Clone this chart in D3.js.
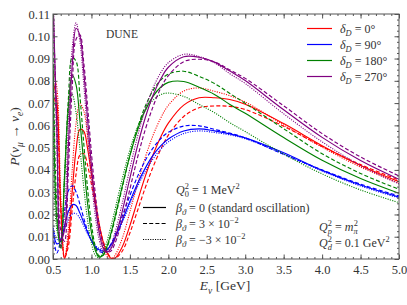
<!DOCTYPE html>
<html lang="en">
<head>
<meta charset="UTF-8">
<title>DUNE appearance probability</title>
<script src="https://d3js.org/d3.v7.min.js"></script>
<style>
  html, body { margin: 0; padding: 0; background: #fff; }
  text { font-family: "Liberation Serif", "DejaVu Serif", serif; fill: #333; }
</style>
</head>
<body>
<div id="chart"></div>
<script>
// neutrino energy grid (GeV)
const energy = [0.5, 0.55, 0.6, 0.65, 0.7, 0.75, 0.8, 0.85, 0.9, 0.95, 1.0, 1.05, 1.1, 1.15, 1.2, 1.25, 1.3,
  1.4, 1.5, 1.6, 1.7, 1.8, 1.9, 2.0, 2.2, 2.4, 2.6, 2.8, 3.0, 3.5, 4.0, 4.5, 5.0];

// P(numu -> nue). std = beta 0, pos = +3e-2 (dashed), neg = -3e-2 (dotted)
const d0Std = [.080, .071, .024, .0003, .009, .0303, .0491, .0582, .0574, .0495, .0381, .0263, .0159, .0080, .0029, .0004, .0002,
  .0054, .0150, .0262, .0371, .0467, .0547, .0610, .0691, .0724, .0724, .0716, .0695, .0608, .0509, .0420, .0347];
const d0Pos = [.075, .066, .022, .0006, .0058, .0225, .0381, .0467, .0474, .0421, .0335, .0239, .0152, .0083, .0035, .0008, .0001,
  .0035, .0117, .0218, .0320, .0412, .0491, .0556, .0640, .0679, .0687, .0685, .0671, .0596, .0505, .0424, .0355];
const d0Neg = [.085, .077, .030, .0002, .0137, .0400, .0609, .0698, .0666, .0552, .0406, .0263, .0145, .0062, .0014, .0000, .0013,
  .0092, .0212, .0339, .0456, .0554, .0632, .0690, .0754, .0768, .0753, .0733, .0705, .0602, .0502, .0413, .0340];

const d90Std = [.0135, .0068, .0081, .0150, .0213, .0244, .0240, .0206, .0164, .0119, .0083, .0056, .0041, .0035, .0041, .0061, .0092,
  .0172, .0258, .0339, .0408, .0465, .0508, .0539, .0575, .0584, .0575, .0562, .0544, .0477, .0398, .0332, .0278];
const d90Pos = [.011, .0027, .0086, .0214, .0306, .0329, .0301, .0246, .0183, .0126, .0082, .0052, .0035, .0030, .0040, .0065, .0101,
  .0192, .0285, .0371, .0442, .0498, .0540, .0569, .0597, .0598, .0582, .0565, .0544, .0470, .0400, .0336, .0283];
const d90Neg = [.015, .0088, .0090, .0135, .0178, .0202, .0204, .0182, .0149, .0113, .0084, .0060, .0047, .0040, .0043, .0060, .0088,
  .0163, .0246, .0325, .0393, .0449, .0493, .0526, .0563, .0575, .0568, .0557, .0540, .0471, .0395, .0328, .0274];

const d180Std = [.0875, .0177, .0059, .0367, .0687, .0826, .0782, .0622, .0428, .0248, .0119, .0039, .0009, .0018, .0055, .0111, .0180,
  .0326, .0464, .0579, .0669, .0730, .0771, .0793, .0797, .0771, .0739, .0694, .0654, .0545, .0443, .0361, .0295];
const d180Pos = [.093, .023, .0044, .0353, .0718, .0904, .0888, .0731, .0519, .0315, .0157, .0057, .0014, .0016, .0049, .0103, .0171,
  .0320, .0465, .0588, .0686, .0756, .0803, .0830, .0843, .0820, .0788, .0743, .0699, .0585, .0473, .0384, .0313];
const d180Neg = [.082, .013, .0078, .0386, .0659, .0739, .0658, .0497, .0322, .0174, .0071, .0017, .0006, .0029, .0077, .0141, .0212,
  .0359, .0490, .0593, .0667, .0713, .0738, .0745, .0730, .0694, .0657, .0612, .0572, .0471, .0382, .0310, .0253];

const d270Std = [.118, .0588, .0085, .0130, .0507, .0869, .1036, .1003, .0842, .0627, .0417, .0242, .0120, .0051, .0030, .0045, .0085,
  .0213, .0363, .0509, .0634, .0734, .0808, .0861, .0908, .0906, .0884, .0844, .0801, .0670, .0546, .0442, .0358];
const d270Pos = [.112, .062, .013, .0079, .0401, .0772, .0987, .1007, .0883, .0685, .0476, .0294, .0155, .0070, .0033, .0035, .0065,
  .0174, .0314, .0456, .0581, .0683, .0766, .0823, .0886, .0897, .0885, .0849, .0811, .0688, .0563, .0458, .0373];
const d270Neg = [.122, .0494, .0052, .0200, .0616, .0948, .106, .0977, .0784, .0560, .0353, .0193, .0088, .0038, .0033, .0060, .0111,
  .0250, .0406, .0551, .0673, .0767, .0836, .0881, .0919, .0909, .0881, .0832, .0788, .0652, .0526, .0420, .0337];

const deltaLabels = ["0°", "90°", "180°", "270°"];
const betaLabels = ["0 (standard oscillation)", "3 × 10", "−3 × 10"];
const xTicks = [0.5, 1.0, 1.5, 2.0, 2.5, 3.0, 3.5, 4.0, 4.5, 5.0];
const yTicks = [0, 0.01, 0.02, 0.03, 0.04, 0.05, 0.06, 0.07, 0.08, 0.09, 0.10, 0.11];

const colors = ["#ff0000", "#0000ff", "#008000", "#800080"];
const dashes = [null, "4,2.2", "1.1,1.3"];

const series = [
  [d0Std, d0Pos, d0Neg], [d90Std, d90Pos, d90Neg],
  [d180Std, d180Pos, d180Neg], [d270Std, d270Pos, d270Neg]
];

const width = 407, height = 305;
const margin = {top: 14, right: 8, bottom: 46, left: 53};

const x = d3.scaleLinear().domain([0.5, 5]).range([margin.left, width - margin.right]);
const y = d3.scaleLinear().domain([0, 0.11]).range([height - margin.bottom, margin.top]);

const svg = d3.select("#chart").append("svg")
  .attr("width", width).attr("height", height);

svg.append("clipPath").attr("id", "plot")
  .append("rect")
  .attr("x", x(0.5)).attr("y", y(0.11))
  .attr("width", x(5) - x(0.5)).attr("height", y(0) - y(0.11));

// curves
const line = d3.line()
  .x((d, i) => x(energy[i]))
  .y(d => y(d))
  .curve(d3.curveCatmullRom.alpha(0.5));

const curves = svg.append("g").attr("clip-path", "url(#plot)");
series.forEach((group, ci) => {
  group.forEach((vals, si) => {
    curves.append("path")
      .attr("d", line(vals))
      .attr("fill", "none")
      .attr("stroke", colors[ci])
      .attr("stroke-width", si === 2 ? 1.1 : 1.15)
      .attr("stroke-dasharray", dashes[si]);
  });
});

// axes, ticks inward on all four sides
const xMinor = d3.range(0.5, 5.001, 0.1);
const yMinor = d3.range(0, 0.1101, 0.0025);
const axisColor = "#555";

function styleAxis(g) {
  g.select(".domain").remove();
  g.selectAll("line").attr("stroke", axisColor);
  g.selectAll("text").attr("fill", "#333").style("font-size", "12.5px")
    .style("font-family", '"Liberation Serif", serif');
}

const pBottom = height - margin.bottom, pLeft = margin.left, pRight = width - margin.right, pTop = margin.top;

svg.append("g").attr("transform", `translate(0,${pBottom})`)
  .call(d3.axisBottom(x).tickValues(xMinor).tickSize(-2).tickFormat("")).call(styleAxis);
svg.append("g").attr("transform", `translate(0,${pBottom})`)
  .call(d3.axisBottom(x).tickValues(xTicks).tickSize(-4.5).tickPadding(6).tickFormat(d3.format(".1f"))).call(styleAxis);
svg.append("g").attr("transform", `translate(0,${pTop})`)
  .call(d3.axisTop(x).tickValues(xMinor).tickSize(-2).tickFormat("")).call(styleAxis);
svg.append("g").attr("transform", `translate(0,${pTop})`)
  .call(d3.axisTop(x).tickValues(xTicks).tickSize(-4.5).tickFormat("")).call(styleAxis);

svg.append("g").attr("transform", `translate(${pLeft},0)`)
  .call(d3.axisLeft(y).tickValues(yMinor).tickSize(-2).tickFormat("")).call(styleAxis);
svg.append("g").attr("transform", `translate(${pLeft},0)`)
  .call(d3.axisLeft(y).tickValues(yTicks).tickSize(-4.5).tickPadding(3).tickFormat(d3.format(".2f"))).call(styleAxis);
svg.append("g").attr("transform", `translate(${pRight},0)`)
  .call(d3.axisRight(y).tickValues(yMinor).tickSize(-2).tickFormat("")).call(styleAxis);
svg.append("g").attr("transform", `translate(${pRight},0)`)
  .call(d3.axisRight(y).tickValues(yTicks).tickSize(-4.5).tickFormat("")).call(styleAxis);

svg.append("rect")
  .attr("x", pLeft).attr("y", pTop)
  .attr("width", pRight - pLeft).attr("height", pBottom - pTop)
  .attr("fill", "none").attr("stroke", axisColor).attr("stroke-width", 1);

// little helper for math-ish text: parts with italic / sub / sup
function mathText(sel, px, py, size, parts) {
  const t = sel.append("text").attr("x", px).attr("y", py).style("font-size", size + "px");
  let cur = 0;
  parts.forEach(p => {
    const off = p.sub ? size * 0.28 : p.sup ? -size * 0.4 : 0;
    const s = t.append("tspan").text(p.t).attr("dy", off - cur);
    cur = off;
    if (p.i) s.style("font-style", "italic");
    if (p.sub || p.sup) s.style("font-size", (size * 0.7) + "px");
    if (p.dx) s.attr("dx", p.dx);
  });
  return t;
}

// axis titles
mathText(svg, 225, 290, 13.5, [
  {t: "E", i: true}, {t: "ν", i: true, sub: true}, {t: " [GeV]"}
]).attr("text-anchor", "middle");

mathText(svg, 0, 0, 13.5, [
  {t: "P", i: true}, {t: "("}, {t: "ν", i: true}, {t: "μ", i: true, sub: true},
  {t: " → "}, {t: "ν", i: true}, {t: "e", i: true, sub: true}, {t: ")"}
]).attr("text-anchor", "middle")
  .attr("transform", `translate(19,${(pTop + pBottom) / 2}) rotate(-90)`);

svg.append("text").attr("x", 106).attr("y", 38)
  .style("font-size", "11.5px").text("DUNE");

// delta legend
const legD = svg.append("g");
deltaLabels.forEach((lab, i) => {
  const ly = 28.5 + i * 16;
  legD.append("line").attr("x1", 307).attr("x2", 332).attr("y1", ly).attr("y2", ly)
    .attr("stroke", colors[i]).attr("stroke-width", 1.2);
  mathText(legD, 340, ly + 4, 12, [
    {t: "δ", i: true}, {t: "D", i: true, sub: true}, {t: " = " + lab}
  ]);
});

// beta legend
const legB = svg.append("g");
mathText(legB, 176, 194, 12, [
  {t: "Q", i: true}, {t: "0", sub: true}, {t: "2", sup: true, dx: -4}, {t: " = 1 MeV"}, {t: "2", sup: true}
]);
betaLabels.forEach((lab, i) => {
  const ly = 207.5 + i * 16;
  legB.append("line").attr("x1", 143).attr("x2", 166).attr("y1", ly).attr("y2", ly)
    .attr("stroke", "#000").attr("stroke-width", 1.2)
    .attr("stroke-dasharray", dashes[i]);
  const parts = [{t: "β", i: true}, {t: "ϑ", i: true, sub: true}, {t: " = " + lab}];
  if (i > 0) parts.push({t: "−2", sup: true});
  mathText(legB, 176, ly + 4, 12, parts);
});

// fixed parameters note
mathText(svg, 319, 231, 12, [
  {t: "Q", i: true}, {t: "p", i: true, sub: true}, {t: "2", sup: true, dx: -4}, {t: " = "},
  {t: "m", i: true}, {t: "π", i: true, sub: true}, {t: "2", sup: true, dx: -4}
]);
mathText(svg, 319, 247, 12, [
  {t: "Q", i: true}, {t: "d", i: true, sub: true}, {t: "2", sup: true, dx: -4}, {t: " = 0.1 GeV"}, {t: "2", sup: true}
]);
</script>
</body>
</html>
